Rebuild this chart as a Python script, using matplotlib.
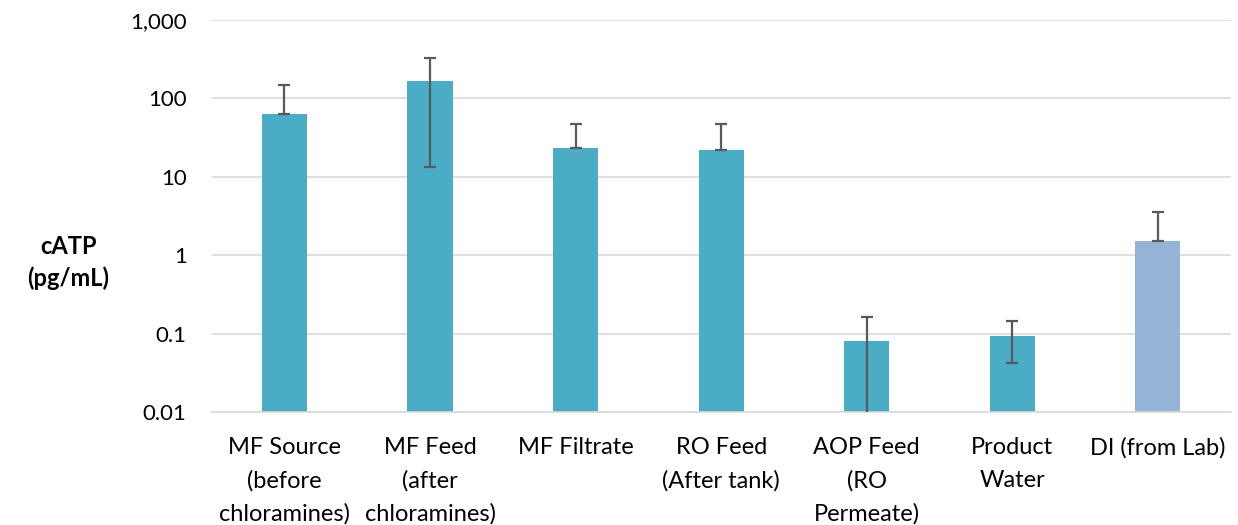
"""cATP by sampling location, log-scale bar chart with error bars."""

import matplotlib.pyplot as plt
import numpy as np
from matplotlib.ticker import FixedLocator, FixedFormatter

plt.rcParams["font.family"] = ["Lato", "DejaVu Sans"]

# Data
categories = [
    "MF Source\n(before\nchloramines)",
    "MF Feed\n(after\nchloramines)",
    "MF Filtrate",
    "RO Feed\n(After tank)",
    "AOP Feed\n(RO\nPermeate)",
    "Product\nWater",
    "DI (from Lab)",
]
catp = [63.8, 168, 23.3, 22.2, 0.080, 0.094, 1.53]
err_upper = [149.6, 327, 47.6, 46.5, 0.161, 0.146, 3.59]
err_lower = [63.8, 13.4, 23.3, 22.2, 0.0001, 0.0425, 1.53]
bar_colors = ["#4BACC6"] * 6 + ["#95B3D7"]

y_ticks = [0.01, 0.1, 1, 10, 100, 1000]
y_tick_labels = ["0.01", "0.1", "1", "10", "100", "1,000"]

fig = plt.figure(figsize=(12.38, 5.25), dpi=100)
ax = fig.add_axes([0.171, 0.215, 0.823, 0.747])

x = np.arange(len(categories))
values = np.array(catp)
yerr = np.array([values - np.array(err_lower), np.array(err_upper) - values])

ax.bar(x, values, width=0.31, color=bar_colors, zorder=2)
ax.errorbar(
    x,
    values,
    yerr=yerr,
    fmt="none",
    ecolor="#595959",
    elinewidth=1.6,
    capsize=4.5,
    capthick=1.6,
    zorder=3,
)

ax.set_yscale("log")
ax.set_ylim(0.01, 1000)
ax.set_xlim(-0.5, len(categories) - 0.5)
ax.yaxis.set_major_locator(FixedLocator(y_ticks))
ax.yaxis.set_major_formatter(FixedFormatter(y_tick_labels))
ax.yaxis.set_minor_locator(FixedLocator([]))
ax.grid(axis="y", color="#D9D9D9", linewidth=1.2, zorder=0)
ax.set_axisbelow(True)

for side in ["top", "right", "left"]:
    ax.spines[side].set_visible(False)
ax.spines["bottom"].set_color("#D9D9D9")
ax.spines["bottom"].set_linewidth(1.2)

ax.set_xticks(x)
ax.set_xticklabels(categories, fontsize=17, linespacing=1.68, va="top")
ax.tick_params(axis="x", length=0, pad=18, colors="black")
ax.tick_params(axis="y", length=0, pad=18, labelsize=16)

fig.text(
    0.055, 0.50, "cATP\n(pg/mL)",
    ha="center", va="center", fontsize=17, fontweight="bold", linespacing=1.45,
)

fig.savefig("out.png", dpi=100)
plt.close(fig)
